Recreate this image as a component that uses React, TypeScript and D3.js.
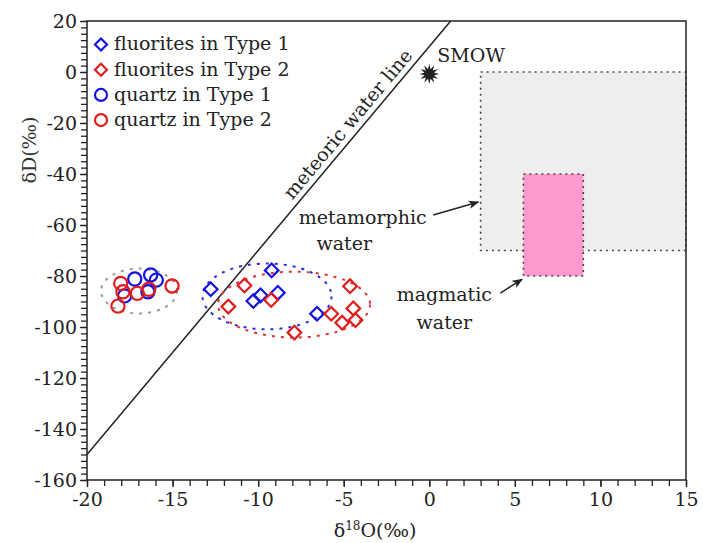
import React, { useEffect, useRef } from "react";
import * as d3 from "d3";

const W = 703;
const H = 543;
const margin = { top: 21, right: 17, bottom: 63, left: 87 };

const xDomain = [-20, 15];
const yDomain = [-160, 20];
const xMajor = [-20, -15, -10, -5, 0, 5, 10, 15];
const yMajor = [20, 0, -20, -40, -60, -80, -100, -120, -140, -160];

// [δ18O, δD]
const fluoriteType1 = [
  [-12.77, -85.2],
  [-9.21, -77.8],
  [-10.28, -89.8],
  [-9.86, -87.6],
  [-8.85, -86.6],
  [-6.56, -94.8],
];
const fluoriteType2 = [
  [-10.8, -83.7],
  [-11.74, -92.0],
  [-9.24, -89.4],
  [-7.88, -102.2],
  [-5.73, -94.8],
  [-4.63, -84.0],
  [-4.44, -92.7],
  [-5.09, -98.3],
  [-4.31, -97.3],
];
const quartzType1 = [
  [-17.21, -81.2],
  [-16.28, -79.6],
  [-15.95, -81.6],
  [-17.8, -87.8],
  [-16.44, -86.2],
];
const quartzType2 = [
  [-18.03, -82.9],
  [-17.9, -86.2],
  [-18.19, -91.8],
  [-17.06, -86.8],
  [-16.39, -85.2],
  [-15.03, -83.9],
];

// ellipses: cx, cy, rx, ry (data units)
const ellipses = [
  { c: [-16.96, -85.9], r: [2.22, 8.8], color: "#9a9a9a" },
  { c: [-9.48, -88.0], r: [3.77, 12.9], color: "#2b2bdc" },
  { c: [-7.9, -91.2], r: [4.44, 12.9], color: "#e03030" },
];

const metamorphicBox = { x: [3, 15], y: [0, -70] };
const magmaticBox = { x: [5.5, 9], y: [-40, -80] };
const smow = [0, 0];

const legendItems = [
  { label: "fluorites in Type 1", shape: "diamond", color: "#1414e0" },
  { label: "fluorites in Type 2", shape: "diamond", color: "#e01c1c" },
  { label: "quartz in Type 1", shape: "circle", color: "#1414e0" },
  { label: "quartz in Type 2", shape: "circle", color: "#e01c1c" },
];

const BLUE = "#1414e0";
const RED = "#e01c1c";
const FONT = "'Palatino Linotype', 'Book Antiqua', Palatino, 'DejaVu Serif', serif";

const x = d3.scaleLinear().domain(xDomain).range([margin.left, W - margin.right]);
const y = d3.scaleLinear().domain(yDomain).range([H - margin.bottom, margin.top]);

const star = d3
  .lineRadial<number>()
  .angle((_, i) => (i * Math.PI) / 12)
  .radius((_, i) => (i % 2 ? 5 : 10))
  .curve(d3.curveLinearClosed)(d3.range(24));

const Diamond = ({ cx, cy, color, s = 6.8 }: any) => (
  <path
    d={`M${cx},${cy - s}L${cx + s},${cy}L${cx},${cy + s}L${cx - s},${cy}Z`}
    fill="none"
    stroke={color}
    strokeWidth={2.2}
  />
);

export default function App() {
  const xAxisRef = useRef<SVGGElement>(null);
  const yAxisRef = useRef<SVGGElement>(null);

  useEffect(() => {
    const xa = d3.select(xAxisRef.current);
    xa.selectAll("*").remove();
    xa.append("g")
      .call(d3.axisBottom(x).tickValues(d3.range(-20, 16, 1)).tickSize(6).tickFormat(() => ""));
    xa.append("g")
      .call(
        d3.axisBottom(x).tickValues(xMajor).tickSize(7).tickPadding(6).tickFormat((d) => String(d))
      );
    const ya = d3.select(yAxisRef.current);
    ya.selectAll("*").remove();
    ya.append("g")
      .call(d3.axisLeft(y).tickValues(d3.range(-160, 21, 2.5)).tickSize(6).tickFormat(() => ""));
    ya.append("g")
      .call(
        d3.axisLeft(y).tickValues(yMajor).tickSize(7).tickPadding(3).tickFormat((d) => String(d))
      );
    [xa, ya].forEach((a) => {
      a.selectAll("path.domain").remove();
      a.selectAll("line").attr("stroke", "#222").attr("stroke-width", 1.3);
      a.selectAll("text")
        .attr("fill", "#222")
        .style("font-family", FONT)
        .style("font-size", "19px");
    });
  }, []);

  // meteoric water line δD = 8 δ18O + 10, clipped to the frame
  const mwl = [
    [-20, 8 * -20 + 10],
    [(20 - 10) / 8, 20],
  ];
  const angle = (Math.atan2(y(8 * 1 + 10) - y(10), x(1) - x(0)) * 180) / Math.PI;
  const th = (-angle * Math.PI) / 180;
  const lx0 = -4.2;
  const lpx = x(lx0) - Math.sin(th) * 6;
  const lpy = y(8 * lx0 + 10) - Math.cos(th) * 6;

  const arrows = [
    { from: [0.23, -56.1], to: [2.86, -51.0] },
    { from: [4.15, -86.7], to: [5.42, -81.3] },
  ];

  const text = { fontFamily: FONT, fontSize: 19, fill: "#222" } as any;

  return (
    <svg
      width={W}
      height={H}
      style={{ position: "absolute", left: 0, top: 0, background: "#fff" }}
    >
      <defs>
        <marker id="arr" viewBox="0 0 10 10" refX="9" refY="5" markerWidth="7" markerHeight="7" orient="auto">
          <path d="M0,1L10,5L0,9L2.5,5Z" fill="#222" />
        </marker>
      </defs>

      {/* metamorphic water */}
      <rect
        x={x(metamorphicBox.x[0])}
        y={y(metamorphicBox.y[0])}
        width={x(metamorphicBox.x[1]) - x(metamorphicBox.x[0])}
        height={y(metamorphicBox.y[1]) - y(metamorphicBox.y[0])}
        fill="#eeeeee"
        stroke="#444"
        strokeWidth={1.6}
        strokeDasharray="2,4"
      />
      {/* magmatic water */}
      <rect
        x={x(magmaticBox.x[0])}
        y={y(magmaticBox.y[0])}
        width={x(magmaticBox.x[1]) - x(magmaticBox.x[0])}
        height={y(magmaticBox.y[1]) - y(magmaticBox.y[0])}
        fill="#fd99cc"
        stroke="#444"
        strokeWidth={1.6}
        strokeDasharray="2,4"
      />

      {/* meteoric water line */}
      <line x1={x(mwl[0][0])} y1={y(mwl[0][1])} x2={x(mwl[1][0])} y2={y(mwl[1][1])} stroke="#222" strokeWidth={1.5} />
      <text {...text} x={lpx} y={lpy} textAnchor="middle" transform={`rotate(${angle},${lpx},${lpy})`}>
        meteoric water line
      </text>

      {ellipses.map((e, i) => (
        <ellipse
          key={i}
          cx={x(e.c[0])}
          cy={y(e.c[1])}
          rx={x(e.r[0]) - x(0)}
          ry={y(0) - y(e.r[1])}
          fill="none"
          stroke={e.color}
          strokeWidth={2}
          strokeDasharray="3,6"
        />
      ))}

      {quartzType1.map((d, i) => (
        <circle key={"q1" + i} cx={x(d[0])} cy={y(d[1])} r={6.6} fill="none" stroke={BLUE} strokeWidth={2.2} />
      ))}
      {quartzType2.map((d, i) => (
        <circle key={"q2" + i} cx={x(d[0])} cy={y(d[1])} r={6.6} fill="none" stroke={RED} strokeWidth={2.2} />
      ))}
      {fluoriteType1.map((d, i) => (
        <Diamond key={"f1" + i} cx={x(d[0])} cy={y(d[1])} color={BLUE} />
      ))}
      {fluoriteType2.map((d, i) => (
        <Diamond key={"f2" + i} cx={x(d[0])} cy={y(d[1])} color={RED} />
      ))}

      {/* SMOW */}
      <path d={star || ""} transform={`translate(${x(smow[0])},${y(smow[1]) + 2})`} fill="#222" />
      <text {...text} x={x(0.47)} y={y(3.9)}>SMOW</text>

      {/* annotations */}
      <text {...text} x={x(-3.89)} y={y(-59.6)} textAnchor="middle">metamorphic</text>
      <text {...text} x={x(-4.97)} y={y(-69.8)} textAnchor="middle">water</text>
      <text {...text} x={x(0.88)} y={y(-89.7)} textAnchor="middle">magmatic</text>
      <text {...text} x={x(0.88)} y={y(-100.8)} textAnchor="middle">water</text>
      {arrows.map((a, i) => (
        <line
          key={i}
          x1={x(a.from[0])}
          y1={y(a.from[1])}
          x2={x(a.to[0])}
          y2={y(a.to[1])}
          stroke="#222"
          strokeWidth={1.5}
          markerEnd="url(#arr)"
        />
      ))}

      {/* legend */}
      {legendItems.map((l, i) => {
        const cy = 44.5 + i * 25.2;
        return (
          <g key={i}>
            {l.shape === "diamond" ? (
              <Diamond cx={101} cy={cy} color={l.color} s={6} />
            ) : (
              <circle cx={101} cy={cy} r={6} fill="none" stroke={l.color} strokeWidth={2.2} />
            )}
            <text {...text} x={114} y={cy + 5.8}>{l.label}</text>
          </g>
        );
      })}

      {/* frame */}
      <rect
        x={margin.left}
        y={margin.top}
        width={W - margin.left - margin.right}
        height={H - margin.top - margin.bottom}
        fill="none"
        stroke="#222"
        strokeWidth={1.5}
      />
      <g ref={xAxisRef} transform={`translate(0,${H - margin.bottom})`} />
      <g ref={yAxisRef} transform={`translate(${margin.left},0)`} />

      {/* axis titles */}
      <text {...text} x={375} y={537} textAnchor="middle">
        δ<tspan fontSize={12} dy={-7}>18</tspan>
        <tspan dy={7}>O(‰)</tspan>
      </text>
      <text {...text} fill="#333" transform={`translate(36,150) rotate(-90)`} textAnchor="middle">
        δD(‰)
      </text>
    </svg>
  );
}
